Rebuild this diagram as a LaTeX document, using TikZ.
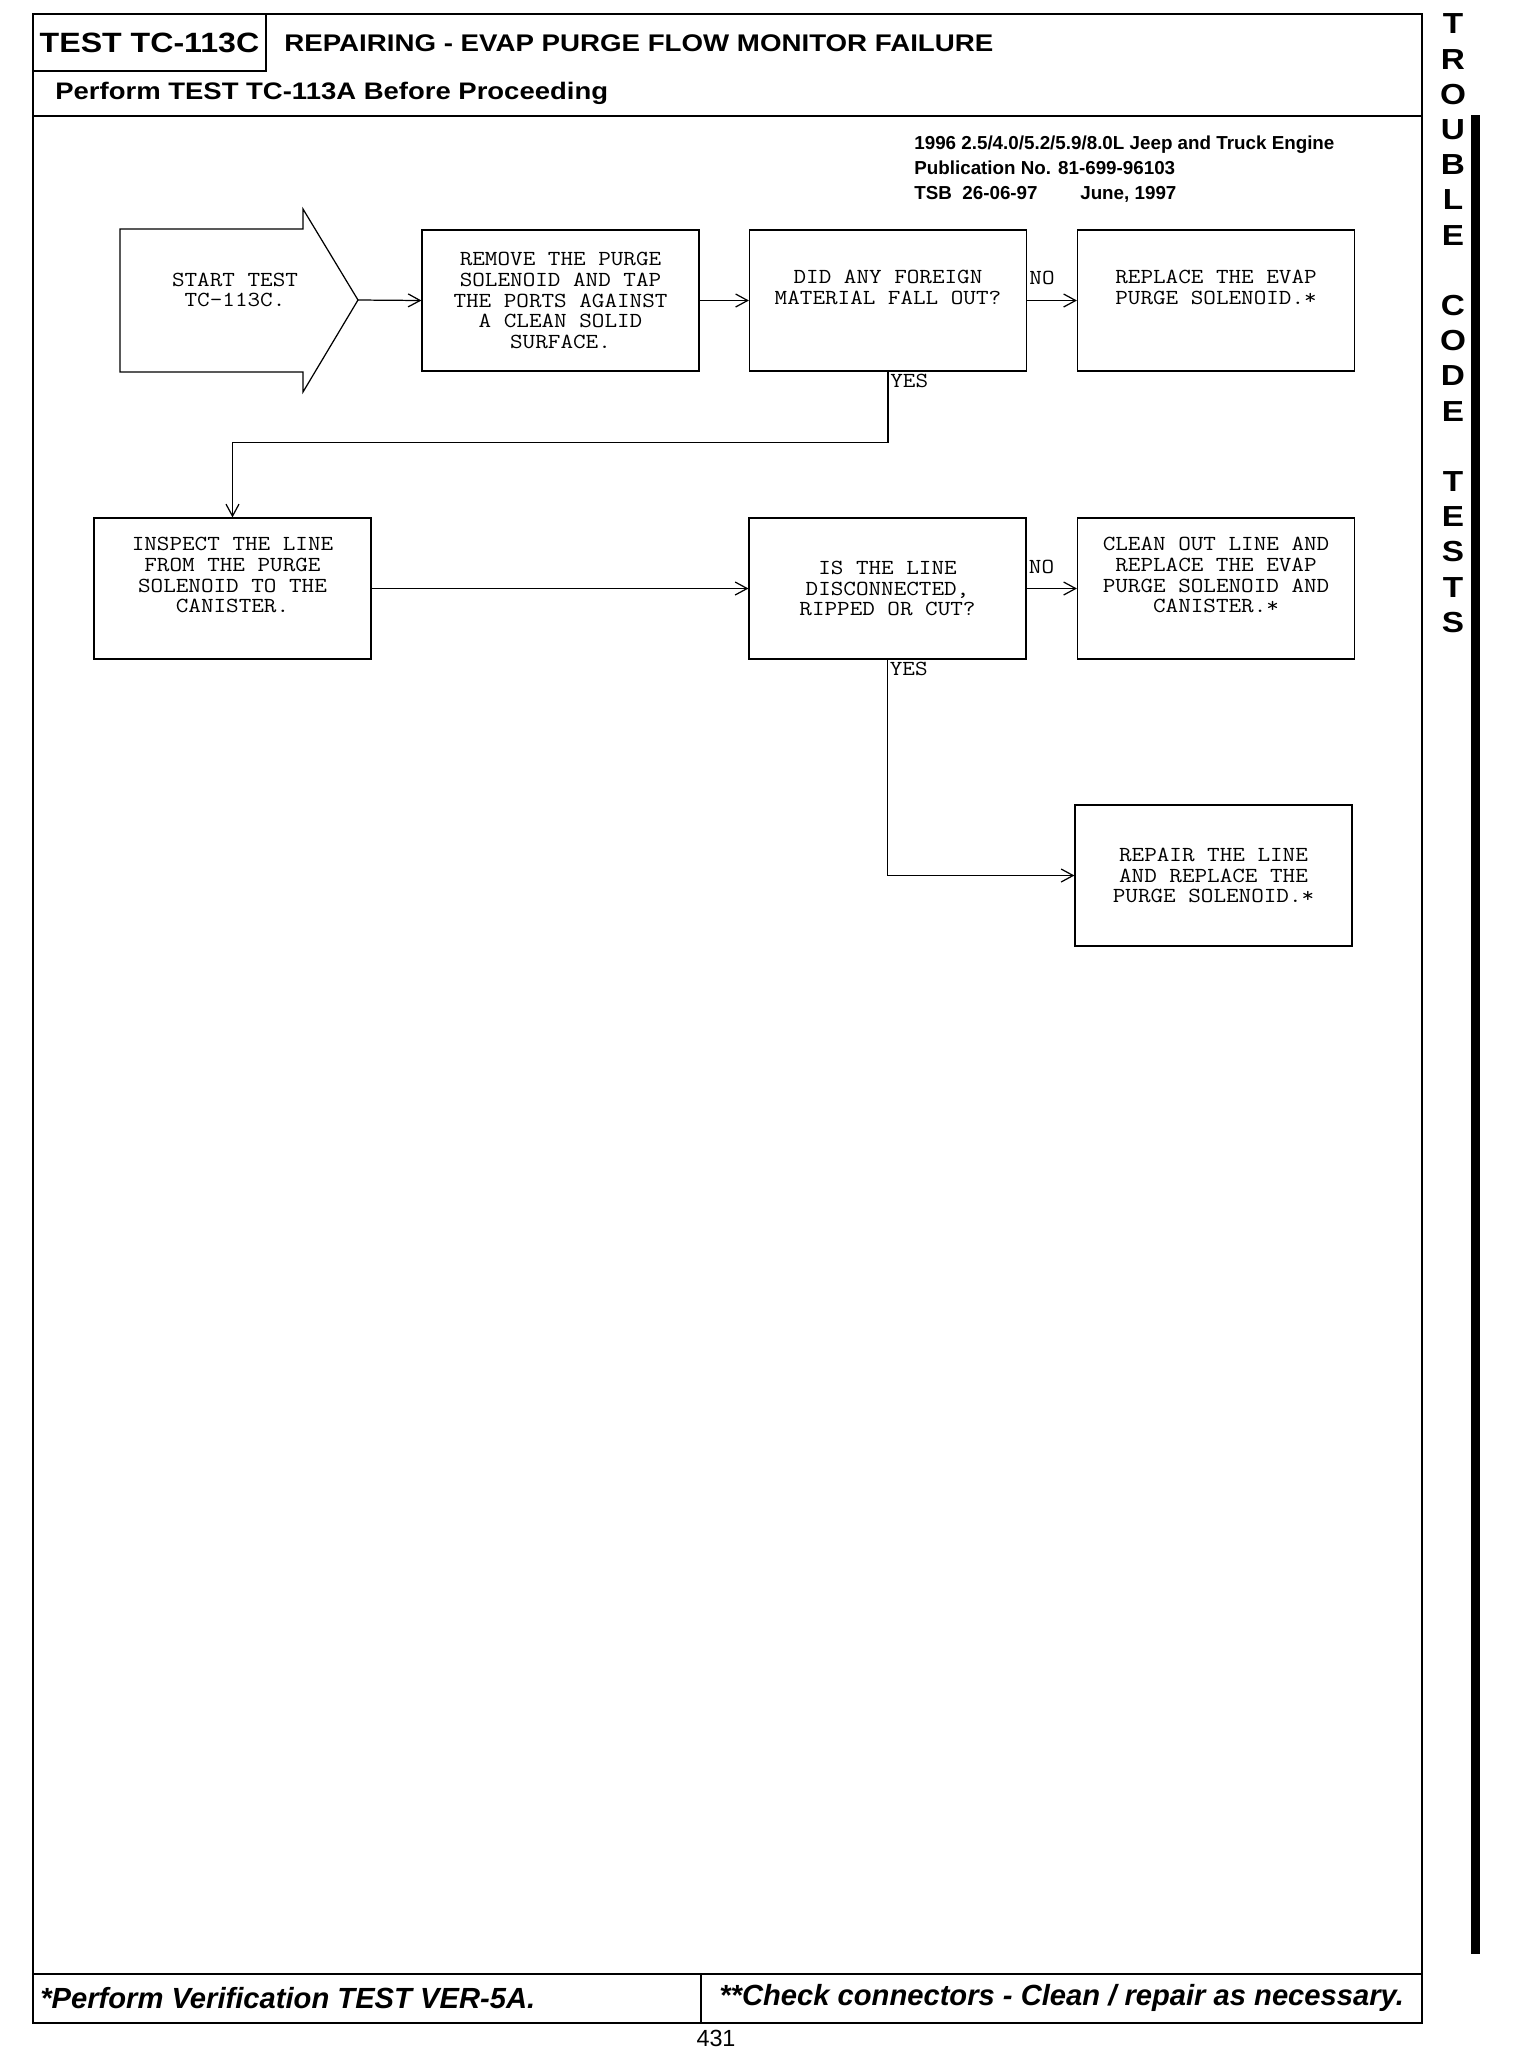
\documentclass[tikz,border=0pt]{standalone}
\usepackage{fontspec}
\setmainfont{Liberation Sans}
\newfontfamily\headfont[FakeStretch=1.15]{Liberation Sans}
\newfontfamily\boxfont[FakeStretch=1.14]{Latin Modern Mono}
\usetikzlibrary{arrows.meta,calc,positioning}

\begin{document}
\begin{tikzpicture}[x=0.02cm,y=-0.02cm,>={Straight Barb[length=2.4mm,width=2.6mm]},
  box/.style={draw,line width=0.7pt,minimum width=5.54cm,minimum height=2.82cm,inner sep=0pt,align=center,font=\boxfont\fontsize{12.2}{11.8}\selectfont},
  lbl/.style={inner sep=1pt,font=\boxfont\fontsize{12.2}{11.8}\selectfont},
  conn/.style={line width=0.7pt,->},
  frame/.style={line width=1.1pt},
  head/.style={inner sep=0pt,font=\headfont\bfseries\fontsize{#1}{#1}\selectfont},
  foot/.style={inner sep=0pt,anchor=west,font=\bfseries\itshape\fontsize{16.6}{16.6}\selectfont}]
  \fill[white] (0,0) rectangle (1520,2050);
  \useasboundingbox (0,0) rectangle (1520,2050);

  % page frame and header
  \draw[frame] (33,14) rectangle (1422,2023);
  \draw[frame] (33,116) -- (1422,116);
  \draw[frame] (33,1974) -- (1422,1974);
  \draw[frame] (701,1974) -- (701,2023);
  \node[draw,frame,minimum width=4.66cm,minimum height=1.14cm,head=15.9] (testid) at (149.5,42.5) {TEST TC-113C};
  \node[head=13.7,anchor=west] (title) at (284,43) {REPAIRING - EVAP PURGE FLOW MONITOR FAILURE};
  \node[head=13.6,anchor=west] (proceed) at (55,93) {Perform TEST TC-113A Before Proceeding};
  \node[anchor=west,inner sep=0pt,align=left,font=\bfseries\fontsize{10.7}{14.2}\selectfont] (pubinfo) at (914,169)
    {1996 2.5/4.0/5.2/5.9/8.0L Jeep and Truck Engine\\Publication No. 81-699-96103\\\makebox[3.32cm][l]{TSB\ \ 26-06-97}June, 1997};

  % side tab
  \foreach \ch/\k in {T/0,R/1,O/2,U/3,B/4,L/5,E/6,C/8,O/9,D/10,E/11,T/13,E/14,S/15,T/16,S/17}
    \node[head=16.5] (side\k) at (1453,{24+35.2*\k}) {\ch};
  \fill (1471,115) rectangle (1480,1954);

  % footer
  \node[foot] (verify) at (40,1998) {*Perform Verification TEST VER-5A.};
  \node[foot] (connnote) at (719,1998) {**Check connectors - Clean / repair as necessary.};
  \node[inner sep=0pt,anchor=south,font=\fontsize{13.3}{13.3}\selectfont] (pagenum) at (716,2047) {431};

  % flow chart
  \draw[line width=0.7pt] (120,229) -- (303,229) -- (303,209) -- (358,300) -- (303,392) -- (303,372) -- (120,372) -- cycle;
  \coordinate (starttip) at (358,300);
  \node[lbl,align=center] (start) at (235,290) {START TEST\\TC-113C.};
  \node[box] (remove) at (560.5,300.5) {REMOVE THE PURGE\\SOLENOID AND TAP\\THE PORTS AGAINST\\A CLEAN SOLID\\SURFACE.};
  \node[box] (did) at (888,300.5) {DID ANY FOREIGN\\MATERIAL FALL OUT?\\\strut};
  \node[box] (replace) at (1216,300.5) {REPLACE THE EVAP\\PURGE SOLENOID.*\\\strut};
  \node[box] (inspect) at (232.5,588.5) {INSPECT THE LINE\\FROM THE PURGE\\SOLENOID TO THE\\CANISTER.\\\strut};
  \node[box] (isline) at (887.5,588.5) {IS THE LINE\\DISCONNECTED,\\RIPPED OR CUT?};
  \node[box] (clean) at (1216,588.5) {CLEAN OUT LINE AND\\REPLACE THE EVAP\\PURGE SOLENOID AND\\CANISTER.*\\\strut};
  \node[box] (repair) at (1213.5,875.5) {REPAIR THE LINE\\AND REPLACE THE\\PURGE SOLENOID.*};

  \draw[conn] (starttip) -- (remove.west);
  \draw[conn] (remove) -- (did);
  \draw[conn] (did) -- node[lbl,pos=0,anchor=west,yshift=0.46cm] (no1) {NO} (replace);
  \draw[conn] (did.south) -- node[lbl,pos=0,anchor=north west] (yes1) {YES} ++(0,71) -| (inspect.north);
  \draw[conn] (inspect) -- (isline);
  \draw[conn] (isline) -- node[lbl,pos=0,anchor=west,yshift=0.43cm] (no2) {NO} (clean);
  \draw[conn] (isline.south) |- node[lbl,pos=0,anchor=north west] (yes2) {YES} (repair.west);
\end{tikzpicture}
\end{document}
